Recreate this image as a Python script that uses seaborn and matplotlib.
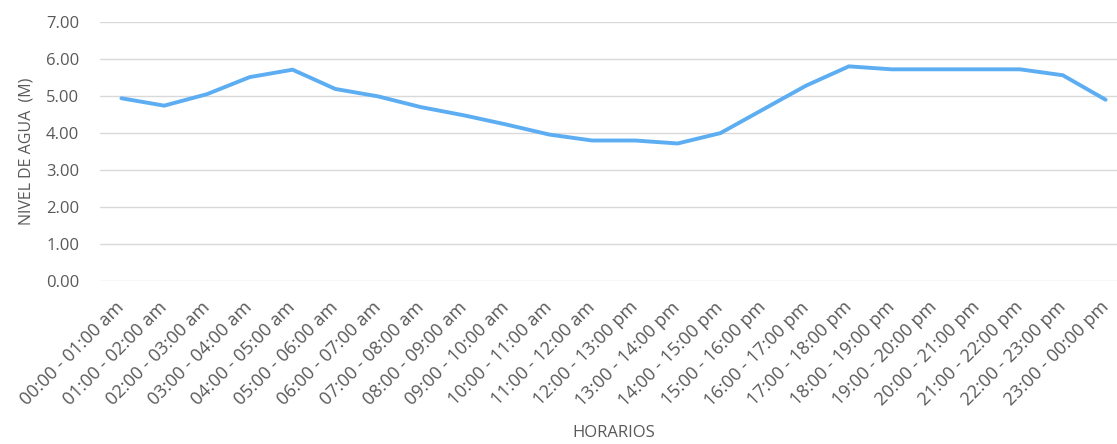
import matplotlib
matplotlib.use("Agg")
import matplotlib.pyplot as plt
import seaborn as sns
import pandas as pd

horarios = [
    "00:00 - 01:00 am", "01:00 - 02:00 am", "02:00 - 03:00 am", "03:00 - 04:00 am",
    "04:00 - 05:00 am", "05:00 - 06:00 am", "06:00 - 07:00 am", "07:00 - 08:00 am",
    "08:00 - 09:00 am", "09:00 - 10:00 am", "10:00 - 11:00 am", "11:00 - 12:00 am",
    "12:00 - 13:00 pm", "13:00 - 14:00 pm", "14:00 - 15:00 pm", "15:00 - 16:00 pm",
    "16:00 - 17:00 pm", "17:00 - 18:00 pm", "18:00 - 19:00 pm", "19:00 - 20:00 pm",
    "20:00 - 21:00 pm", "21:00 - 22:00 pm", "22:00 - 23:00 pm", "23:00 - 00:00 pm",
]
nivel_agua = [
    4.93, 4.73, 5.04, 5.50, 5.70, 5.18, 4.98, 4.69,
    4.47, 4.22, 3.95, 3.79, 3.79, 3.71, 3.99, 4.63,
    5.27, 5.79, 5.71, 5.71, 5.71, 5.71, 5.55, 4.89,
]
y_ticks = [0, 1, 2, 3, 4, 5, 6, 7]

df = pd.DataFrame({"pos": range(len(horarios)), "nivel": nivel_agua})

sns.set_theme(style="white")
plt.rcParams["font.family"] = ["Open Sans", "DejaVu Sans"]

W, H = 1117, 444
fig = plt.figure(figsize=(W / 100, H / 100), dpi=100)
ax = fig.add_axes([100 / W, 163 / H, 1027 / W, 259.5 / H])

sns.lineplot(data=df, x="pos", y="nivel", ax=ax, color="#5dadf2",
             linewidth=2.8, solid_joinstyle="miter")

ax.set_xlim(-0.5, len(horarios) - 0.5)
ax.set_ylim(0, 7)
ax.set_yticks(y_ticks)
ax.set_yticklabels([f"{v:.2f}" for v in y_ticks])
ax.set_xticks(range(len(horarios)))
ax.set_xticklabels(horarios, rotation=45, ha="right", va="center",
                   rotation_mode="anchor")

ax.grid(axis="y", color="#d9d9d9", linewidth=1.0)
ax.set_axisbelow(True)
for s in ax.spines.values():
    s.set_visible(False)

ax.tick_params(axis="y", length=0, pad=15, labelsize=12, labelcolor="#595959")
ax.tick_params(axis="x", length=0, pad=17, labelsize=13, labelcolor="#595959")

ax.set_ylabel("NIVEL DE AGUA  (M)", fontsize=11.5, color="#595959", labelpad=8)
ax.set_xlabel("HORARIOS", fontsize=12, color="#595959", labelpad=11)

fig.savefig("out.png", dpi=100)
